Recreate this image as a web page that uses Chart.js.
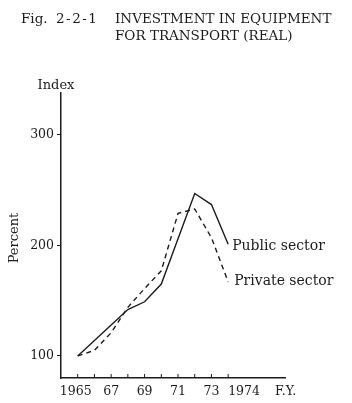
<!DOCTYPE html>
<html>
<head>
<meta charset="utf-8">
<script src="https://cdn.jsdelivr.net/npm/chart.js@4"></script>
<style>
  html, body { margin: 0; padding: 0; background: #fff; }
  canvas { display: block; }
</style>
</head>
<body>
<canvas id="chart" width="352" height="403"></canvas>
<script>
// values (index, 1965 = 100)
const years = [1965, 1966, 1967, 1968, 1969, 1970, 1971, 1972, 1973, 1974];
const publicSector = [100, 114, 128, 142, 149, 165, 206, 247, 237, 201];
const privateSector = [100, 105, 121, 144, 161, 177, 229, 233, 207, 167];
const xTickLabels = ['1965', '', '67', '', '69', '', '71', '', '73', '1974'];
const yTickValues = [100, 200, 300];

const ink = '#1c1c1c';
const serif = '"DejaVu Serif", "Liberation Serif", serif';

function points(values) {
    return years.map((yr, i) => ({ x: yr, y: values[i] }));
}

const annotations = {
    id: 'annotations',
    afterDraw(chart) {
        const ctx = chart.ctx;
        const xs = chart.scales.x;
        const ys = chart.scales.y;
        ctx.save();
        ctx.fillStyle = ink;
        ctx.strokeStyle = ink;
        ctx.textBaseline = 'alphabetic';

        // title
        ctx.font = '13.5px ' + serif;
        ctx.textAlign = 'left';
        ctx.fillText('Fig.', 21, 23);
        ctx.letterSpacing = '1.5px';
        ctx.fillText('2-2-1', 56, 23);
        ctx.letterSpacing = '0px';
        ctx.fillText('INVESTMENT IN EQUIPMENT', 115, 23);
        ctx.fillText('FOR TRANSPORT (REAL)', 115, 40);

        // axis titles
        ctx.font = '13px ' + serif;
        ctx.textAlign = 'center';
        ctx.fillText('Index', 56, 89);
        ctx.save();
        ctx.translate(18, 238);
        ctx.rotate(-Math.PI / 2);
        ctx.fillText('Percent', 0, 0);
        ctx.restore();

        // x ticks point inward
        ctx.lineWidth = 1;
        years.forEach(yr => {
            const px = xs.getPixelForValue(yr);
            ctx.beginPath();
            ctx.moveTo(px, ys.bottom);
            ctx.lineTo(px, ys.bottom - 4);
            ctx.stroke();
        });

        // x tick labels
        ctx.font = '12.5px ' + serif;
        years.forEach((yr, i) => {
            const label = xTickLabels[i];
            if (!label) return;
            const px = xs.getPixelForValue(yr);
            if (i === years.length - 1) {
                ctx.textAlign = 'left';
                ctx.fillText(label, px, 395);
            } else {
                ctx.textAlign = 'center';
                ctx.fillText(label, px - (i === 0 ? 2 : 0), 395);
            }
        });
        ctx.textAlign = 'left';
        ctx.fillText('F.Y.', 275, 395);

        // series names next to the line ends
        ctx.font = '14px ' + serif;
        ctx.textBaseline = 'middle';
        const last = years.length - 1;
        ctx.fillText('Public sector', xs.getPixelForValue(years[last]) + 4,
            ys.getPixelForValue(publicSector[last]) + 2);
        ctx.fillText('Private sector', xs.getPixelForValue(years[last]) + 6,
            ys.getPixelForValue(privateSector[last]) - 1);
        ctx.restore();
    }
};

new Chart(document.getElementById('chart'), {
    type: 'line',
    data: {
        datasets: [
            {
                label: 'Public sector',
                data: points(publicSector),
                borderColor: ink,
                borderWidth: 1.4,
                pointRadius: 0,
                tension: 0
            },
            {
                label: 'Private sector',
                data: points(privateSector),
                borderColor: ink,
                borderWidth: 1.4,
                borderDash: [5, 4],
                pointRadius: 0,
                tension: 0
            }
        ]
    },
    options: {
        responsive: false,
        animation: false,
        layout: { padding: { left: 0, right: 67, top: 93, bottom: 25 } },
        plugins: {
            legend: { display: false },
            tooltip: { enabled: false }
        },
        scales: {
            x: {
                type: 'linear',
                min: 1964,
                max: 1977.4,
                ticks: { display: false },
                grid: { display: false, drawTicks: false },
                border: { color: ink, width: 1.5 },
                afterFit(scale) { scale.height = 0; }
            },
            y: {
                min: 80,
                max: 338,
                afterBuildTicks(scale) {
                    scale.ticks = yTickValues.map(v => ({ value: v }));
                },
                ticks: { color: ink, font: { family: serif, size: 12.5 }, padding: 3 },
                grid: { drawOnChartArea: false, tickLength: 4, color: ink },
                border: { color: ink, width: 1.5 },
                afterFit(scale) { scale.width = 61; }
            }
        }
    },
    plugins: [annotations]
});
</script>
</body>
</html>
